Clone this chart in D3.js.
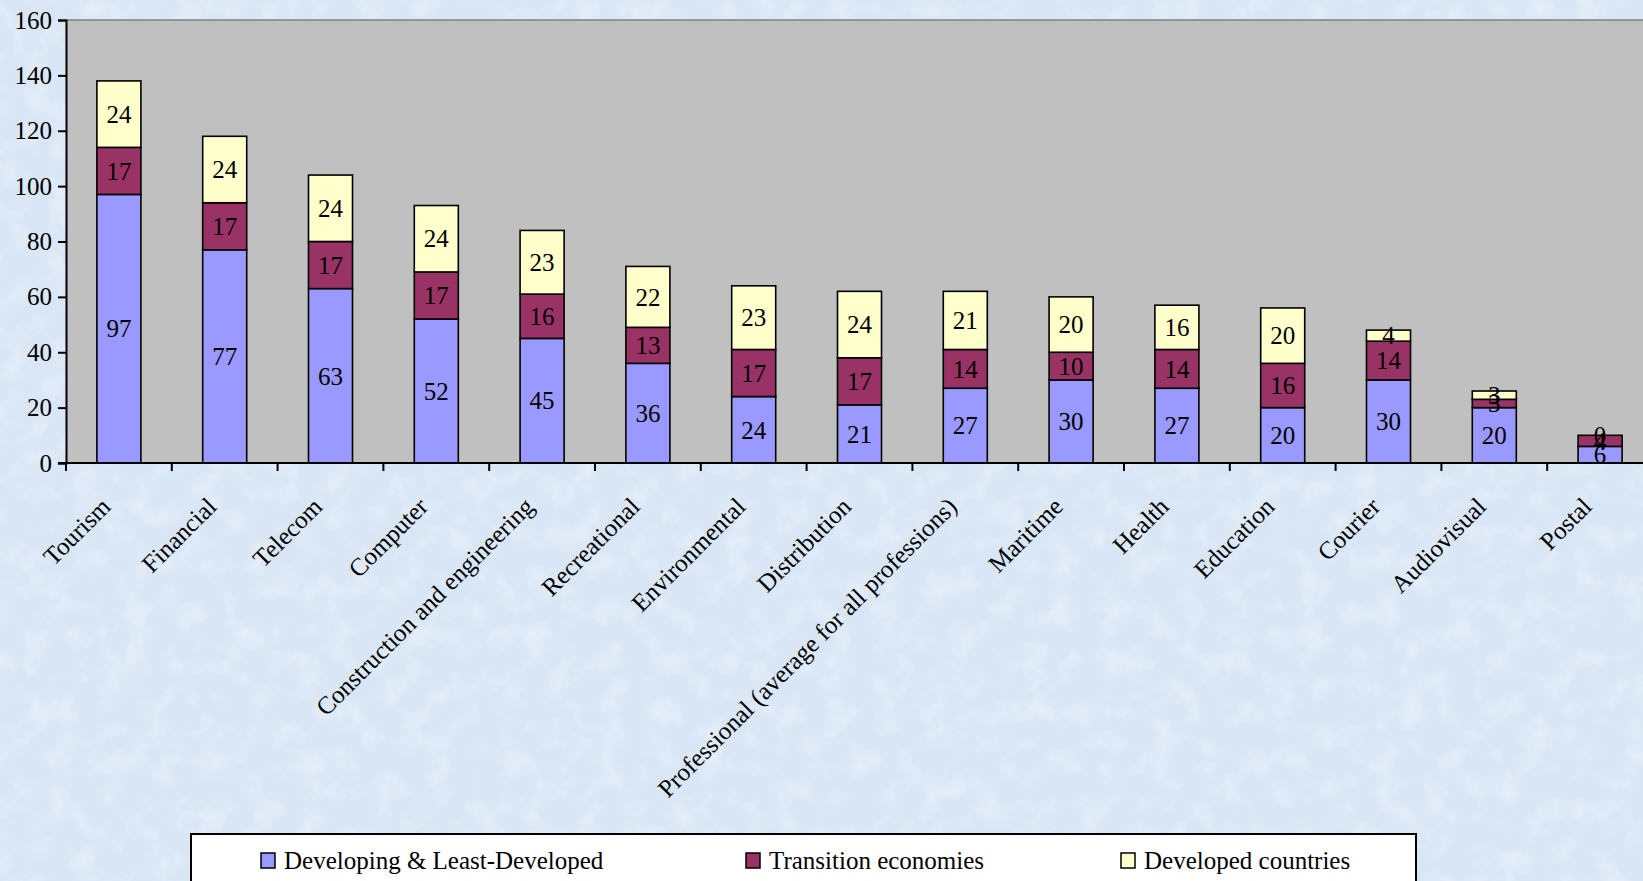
<!DOCTYPE html>
<html>
<head>
<meta charset="utf-8">
<script src="https://cdn.jsdelivr.net/npm/d3@7"></script>
<style>
html,body{margin:0;padding:0;overflow:hidden;background:#dbe8f6;}
svg{display:block;font-family:"Liberation Serif","Times New Roman",serif;}
</style>
</head>
<body>
<svg id="chart" width="1643" height="881"></svg>
<script>
const categories = ["Tourism","Financial","Telecom","Computer","Construction and engineering","Recreational","Environmental","Distribution","Professional (average for all professions)","Maritime","Health","Education","Courier","Audiovisual","Postal"];
const developing = [97,77,63,52,45,36,24,21,27,30,27,20,30,20,6];
const transition = [17,17,17,17,16,13,17,17,14,10,14,16,14,3,4];
const developed  = [24,24,24,24,23,22,23,24,21,20,16,20,4,3,0];
const seriesNames = ["Developing & Least-Developed","Transition economies","Developed countries"];
const seriesColors = ["#9999ff","#993366","#ffffcc"];
const yTicks = [0,20,40,60,80,100,120,140,160];

(function(){
const svg = d3.select("#chart");
const W = 1643, H = 881;

// background texture
const defs = svg.append("defs");
const f = defs.append("filter").attr("id","tex").attr("x",0).attr("y",0).attr("width","100%").attr("height","100%");
f.append("feTurbulence").attr("type","fractalNoise").attr("baseFrequency","0.04").attr("numOctaves",4).attr("seed",7).attr("result","n");
f.append("feColorMatrix").attr("in","n").attr("type","matrix")
  .attr("values","0 0 0 0 0.93  0 0 0 0 0.96  0 0 0 0 1.0  0 0 0 -2.0 1.15");
svg.append("rect").attr("width",W).attr("height",H).attr("fill","#d8e6f5");
svg.append("rect").attr("width",W).attr("height",H).attr("filter","url(#tex)").attr("opacity",0.45);

const pLeft = 66, pTop = 20, pBottom = 463;
const step = 105.8;
const pRight = pLeft + step*categories.length;

const y = d3.scaleLinear().domain([0,160]).range([pBottom, pTop]);
const xStep = d3.scaleBand().domain(categories).range([pLeft, pRight]).padding(0);
const xBar = d3.scaleBand().domain(categories).range([pLeft, pRight]).paddingInner(0.584).paddingOuter(0.292);

// plot area
svg.append("rect").attr("x",pLeft).attr("y",pTop).attr("width",pRight-pLeft).attr("height",pBottom-pTop).attr("fill","#c0c0c0");
svg.append("line").attr("x1",pLeft).attr("x2",pRight).attr("y1",pTop).attr("y2",pTop).attr("stroke","#808080").attr("stroke-width",1.5);

// stack
const rows = categories.map((c,i)=>({cat:c, s0:developing[i], s1:transition[i], s2:developed[i]}));
const stack = d3.stack().keys(["s0","s1","s2"])(rows);

const g = svg.append("g");
stack.forEach((layer, li) => {
  g.selectAll(null).data(layer).enter().append("rect")
    .attr("x", d => xBar(d.data.cat))
    .attr("width", xBar.bandwidth())
    .attr("y", d => y(d[1]))
    .attr("height", d => y(d[0]) - y(d[1]))
    .attr("fill", seriesColors[li])
    .attr("stroke","#000").attr("stroke-width",1.6);
});
stack.forEach((layer, li) => {
  g.selectAll(null).data(layer).enter().append("text")
    .attr("x", d => xBar(d.data.cat) + xBar.bandwidth()/2)
    .attr("y", d => y((d[0]+d[1])/2))
    .attr("dy","0.35em")
    .attr("text-anchor","middle")
    .attr("font-size",25)
    .attr("fill","#000")
    .text(d => d[1]-d[0]);
});

// y axis
const yAxis = d3.axisLeft(y).tickValues(yTicks).tickSize(8).tickPadding(6);
const ya = svg.append("g").attr("transform",`translate(${pLeft},0)`).call(yAxis);
ya.select(".domain").attr("stroke","#000").attr("stroke-width",2);
ya.selectAll(".tick line").attr("stroke","#000").attr("stroke-width",2);
ya.selectAll(".tick text").attr("font-size",25).attr("fill","#000").attr("font-family","Liberation Serif");

// x axis line + ticks at band boundaries
svg.append("line").attr("x1",pLeft-8).attr("x2",pRight).attr("y1",pBottom).attr("y2",pBottom).attr("stroke","#000").attr("stroke-width",2);
svg.selectAll(null).data(categories).enter().append("line")
  .attr("x1", d => xStep(d)).attr("x2", d => xStep(d))
  .attr("y1", pBottom).attr("y2", pBottom+8)
  .attr("stroke","#000").attr("stroke-width",2);

// category labels
svg.selectAll(null).data(categories).enter().append("text")
  .attr("transform", d => `translate(${xStep(d)+xStep.bandwidth()/2-13},${pBottom+39}) rotate(-45)`)
  .attr("text-anchor","end")
  .attr("dy","0.35em")
  .attr("font-size",25)
  .attr("fill","#000")
  .text(d => d);

// legend
const lg = svg.append("g");
lg.append("rect").attr("x",191).attr("y",834).attr("width",1225).attr("height",60)
  .attr("fill","#fff").attr("stroke","#000").attr("stroke-width",2);
const legX = [261, 746, 1121];
seriesNames.forEach((n,i)=>{
  lg.append("rect").attr("x",legX[i]).attr("y",853).attr("width",14).attr("height",15)
    .attr("fill",seriesColors[i]).attr("stroke","#000").attr("stroke-width",1.5);
  lg.append("text").attr("x",legX[i]+23).attr("y",860).attr("dy","0.35em")
    .attr("font-size",25).attr("fill","#000").text(n);
});
})();
</script>
</body>
</html>
